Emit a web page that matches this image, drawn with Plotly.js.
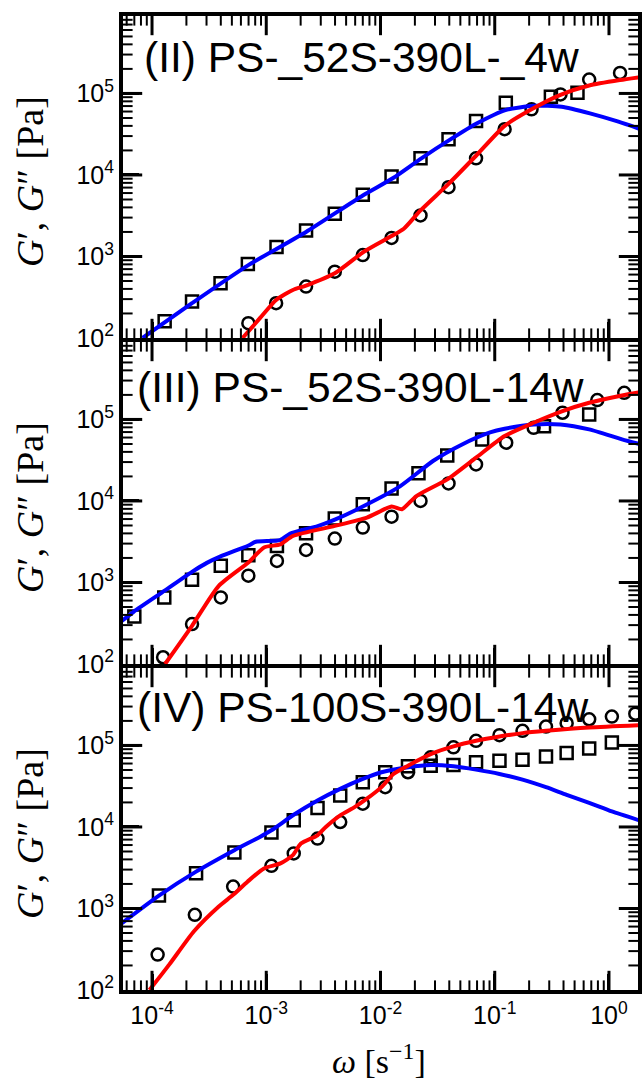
<!DOCTYPE html>
<html><head><meta charset="utf-8">
<script src="https://cdn.plot.ly/plotly-3.0.1.min.js"></script>
<style>html,body{margin:0;padding:0;background:#fff}</style>
</head><body><div id="chart" style="width:642px;height:1083px"></div>
<script>
// ---------- Panel (II) PS-_52S-390L-_4w ----------
const p1Title = "(II) PS-_52S-390L-_4w";
const p1_wSq = [1.29e-4, 2.24e-4, 3.98e-4, 6.9e-4, 1.23e-3, 2.23e-3, 3.98e-3, 7.0e-3, 1.25e-2, 2.24e-2, 3.94e-2, 6.86e-2, 0.125, 0.31, 0.53];
const p1_Gp  = [160, 280, 470, 810, 1310, 2090, 3340, 5700, 9550, 16000, 27500, 46000, 77000, 91000, 102000];
const p1_wCi = [6.97e-4, 1.22e-3, 2.23e-3, 3.98e-3, 7.0e-3, 1.25e-2, 2.24e-2, 3.94e-2, 6.86e-2, 0.122, 0.21, 0.376, 0.671, 1.25];
const p1_Gpp = [152, 267, 427, 650, 1040, 1690, 3190, 7080, 16000, 36400, 63800, 97300, 148000, 178500];
const p1_wFitP = [8.26e-5, 2.24e-4, 6.97e-4, 2.23e-3, 7.0e-3, 1.28e-2, 2.28e-2, 4.03e-2, 7.0e-2, 0.124, 0.22, 0.385, 0.681, 1.21, 1.87];
const p1_fitP  = [100, 267, 783, 2000, 5600, 9100, 16000, 26900, 43000, 62500, 70600, 68700, 56900, 45000, 36600];
const p1_wFitPP = [6.2e-4, 8.8e-4, 1.22e-3, 1.71e-3, 2.23e-3, 3.98e-3, 7.2e-3, 1.25e-2, 1.6e-2, 2.24e-2, 3.94e-2, 6.86e-2, 0.122, 0.21, 0.376, 0.671, 1.25, 1.85];
const p1_fitPP  = [100, 175, 293, 388, 439, 621, 1150, 1780, 2190, 3670, 7760, 17200, 40000, 63800, 96000, 125000, 146000, 158000];

// ---------- Panel (III) PS-_52S-390L-14w ----------
const p2Title = "(III) PS-_52S-390L-14w";
const p2_wSq = [7.0e-5, 1.28e-4, 2.24e-4, 4.0e-4, 6.97e-4, 1.24e-3, 2.23e-3, 3.98e-3, 7.0e-3, 1.25e-2, 2.15e-2, 3.84e-2, 7.76e-2, 0.27, 0.671];
const p2_Gp  = [383, 655, 1080, 1600, 2160, 2810, 4020, 6080, 9100, 14200, 21800, 36200, 56900, 82800, 115000];
const p2_wCi = [1.25e-4, 2.24e-4, 4.0e-4, 6.97e-4, 1.24e-3, 2.23e-3, 3.98e-3, 7.0e-3, 1.25e-2, 2.24e-2, 3.94e-2, 6.86e-2, 0.126, 0.219, 0.392, 0.79, 1.36];
const p2_Gpp = [121, 309, 655, 1210, 1840, 2510, 3460, 4710, 6420, 10000, 16400, 28100, 51800, 79000, 120800, 172600, 212000];
const p2_wFitP = [5.25e-5, 6.9e-5, 1.29e-4, 2.24e-4, 3.02e-4, 3.98e-4, 6.92e-4, 8.1e-4, 1.32e-3, 1.62e-3, 2.82e-3, 3.98e-3, 5.9e-3, 1.48e-2, 2.88e-2, 5.13e-2, 9.1e-2, 0.122, 0.219, 0.376, 0.671, 1.30, 1.90];
const p2_fitP  = [324, 437, 794, 1350, 1740, 2090, 2820, 3160, 3310, 3980, 4900, 5890, 7590, 15100, 30900, 49000, 69200, 76900, 86900, 86900, 75500, 56900, 49400];
const p2_wFitPP = [1.3e-4, 2.24e-4, 3.84e-4, 6.97e-4, 9.55e-4, 1.33e-3, 1.71e-3, 3.98e-3, 7.6e-3, 1.25e-2, 1.54e-2, 2.06e-2, 3.84e-2, 6.86e-2, 0.122, 0.219, 0.392, 0.671, 1.30, 1.90];
const p2_fitPP  = [100, 294, 910, 1760, 2690, 2940, 3720, 4940, 6250, 8530, 7910, 11500, 18400, 34000, 62500, 91000, 126500, 160000, 196800, 216300];

// ---------- Panel (IV) PS-100S-390L-14w ----------
const p3Title = "(IV) PS-100S-390L-14w";
const p3_wSq = [5.46e-5, 1.15e-4, 2.43e-4, 5.26e-4, 1.11e-3, 1.74e-3, 2.81e-3, 4.44e-3, 7.0e-3, 1.10e-2, 1.74e-2, 2.75e-2, 4.35e-2, 6.86e-2, 0.11, 0.175, 0.281, 0.426, 0.671, 1.06];
const p3_Gp  = [776, 1440, 2700, 4860, 8530, 12050, 17050, 24300, 35400, 46900, 55500, 56500, 57500, 62000, 65000, 66900, 73400, 80700, 91900, 108900];
const p3_wCi = [1.12e-4, 2.37e-4, 5.13e-4, 1.11e-3, 1.74e-3, 2.81e-3, 4.44e-3, 7.0e-3, 1.10e-2, 1.74e-2, 2.75e-2, 4.35e-2, 6.86e-2, 0.11, 0.175, 0.281, 0.426, 0.671, 1.06, 1.70];
const p3_Gpp = [272, 837, 1855, 3340, 4730, 7210, 11500, 19300, 30800, 46900, 71500, 94700, 114000, 133700, 151000, 170600, 187200, 209500, 226000, 245000];
const p3_wFitP = [5.46e-5, 1.15e-4, 2.43e-4, 5.26e-4, 8.8e-4, 1.11e-3, 1.74e-3, 2.81e-3, 4.44e-3, 7.0e-3, 1.02e-2, 1.74e-2, 2.75e-2, 4.35e-2, 6.86e-2, 0.11, 0.175, 0.281, 0.426, 0.671, 1.06, 1.82];
const p3_fitP  = [662, 1440, 2830, 5190, 7550, 9100, 14100, 21100, 29300, 38800, 46900, 54000, 57500, 55500, 50500, 44700, 38100, 30800, 24800, 19800, 15500, 12100];
const p3_wFitPP = [9.5e-5, 1.42e-4, 2.33e-4, 3.84e-4, 5.13e-4, 6.85e-4, 9.55e-4, 1.33e-3, 1.71e-3, 2.01e-3, 2.81e-3, 3.32e-3, 4.44e-3, 5.93e-3, 7.6e-3, 1.02e-2, 1.30e-2, 1.74e-2, 2.75e-2, 4.35e-2, 6.86e-2, 0.11, 0.175, 0.281, 0.671, 1.82];
const p3_fitPP  = [100, 206, 525, 1057, 1470, 2130, 3100, 3570, 4510, 6270, 7910, 10000, 13900, 17500, 22200, 30800, 44700, 56500, 78300, 97300, 114000, 128800, 141600, 151000, 166000, 177000];

// ---------- Tick labels ----------
const xTickVals = [1e-4, 1e-3, 1e-2, 1e-1, 1];
const xTickText = ["10<sup>-4</sup>", "10<sup>-3</sup>", "10<sup>-2</sup>", "10<sup>-1</sup>", "10<sup>0</sup>"];
const yTickVals = [1e2, 1e3, 1e4, 1e5];
const yTickText = ["10<sup>2</sup>", "10<sup>3</sup>", "10<sup>4</sup>", "10<sup>5</sup>"];
const yTitle = "<i>G</i>′, <i>G</i>″ [Pa]";
const xTitle = "<i>ω</i> [s<sup>−1</sup>]";

const panels = [
  {title: p1Title, wSq: p1_wSq, Gp: p1_Gp, wCi: p1_wCi, Gpp: p1_Gpp, wFP: p1_wFitP, FP: p1_fitP, wFPP: p1_wFitPP, FPP: p1_fitPP},
  {title: p2Title, wSq: p2_wSq, Gp: p2_Gp, wCi: p2_wCi, Gpp: p2_Gpp, wFP: p2_wFitP, FP: p2_fitP, wFPP: p2_wFitPP, FPP: p2_fitPP},
  {title: p3Title, wSq: p3_wSq, Gp: p3_Gp, wCi: p3_wCi, Gpp: p3_Gpp, wFP: p3_wFitP, FP: p3_fitP, wFPP: p3_wFitPP, FPP: p3_fitPP}
];

// ---------- geometry ----------
const W = 642, HGT = 1083;
const M = {l: 123, r: 4, t: 16, b: 93};
const X_RANGE = [-4.254, 0.254];
const Y_RANGE = [2, 5.95];
const PLOT_H = HGT - M.t - M.b;
const PANEL_H = 322, GAP = 4;
const domains = [
  [(2 * (PANEL_H + GAP)) / PLOT_H, 1],
  [(PANEL_H + GAP) / PLOT_H, (2 * PANEL_H + GAP) / PLOT_H],
  [0, PANEL_H / PLOT_H]
];
const pxPerDecX = (W - M.l - M.r) / (X_RANGE[1] - X_RANGE[0]);
const pxPerDecY = PANEL_H / (Y_RANGE[1] - Y_RANGE[0]);

const inRange = (v, r) => Math.log10(v) > r[0] + 1e-6 && Math.log10(v) < r[1] - 1e-6;
const xMinor = [], yMinor = [];
for (let d = -5; d <= 0; d++) for (let k = 2; k <= 9; k++) { const v = k * Math.pow(10, d); if (inRange(v, X_RANGE)) xMinor.push(v); }
for (let d = 2; d <= 5; d++) for (let k = 2; k <= 9; k++) { const v = k * Math.pow(10, d); if (inRange(v, Y_RANGE)) yMinor.push(v); }
const xMajor = xTickVals.filter(v => inRange(v, X_RANGE));
const yMajor = yTickVals.filter(v => inRange(v, Y_RANGE));

const FONT = "Liberation Sans, Arial, sans-serif";
const SERIF = "Liberation Serif, DejaVu Serif, serif";
const traces = [], annotations = [];
const layout = {
  width: W, height: HGT, margin: M,
  paper_bgcolor: "#fff", plot_bgcolor: "#fff",
  showlegend: false,
  font: {family: FONT, color: "#000"}
};

// Inward tick marks drawn as line-shaped markers placed half a tick length inside each edge
function tickMarkers(xa, ya, xv, yv, len, w) {
  const half = len / 2;
  const yBot = Math.pow(10, Y_RANGE[0] + half / pxPerDecY);
  const yTop = Math.pow(10, Y_RANGE[1] - half / pxPerDecY);
  const xLft = Math.pow(10, X_RANGE[0] + half / pxPerDecX);
  const xRgt = Math.pow(10, X_RANGE[1] - half / pxPerDecX);
  const mk = sym => ({symbol: sym, size: len, color: "#000", line: {color: "#000", width: w}});
  traces.push({x: xv.concat(xv), y: xv.map(() => yBot).concat(xv.map(() => yTop)),
    xaxis: xa, yaxis: ya, type: "scatter", mode: "markers", cliponaxis: false, hoverinfo: "skip",
    marker: mk("line-ns-open")});
  traces.push({x: yv.map(() => xLft).concat(yv.map(() => xRgt)), y: yv.concat(yv),
    xaxis: xa, yaxis: ya, type: "scatter", mode: "markers", cliponaxis: false, hoverinfo: "skip",
    marker: mk("line-ew-open")});
}

panels.forEach((p, i) => {
  const n = i === 0 ? "" : String(i + 1);
  const xa = "x" + n, ya = "y" + n;
  traces.push({x: p.wSq, y: p.Gp, xaxis: xa, yaxis: ya, mode: "markers", type: "scatter", hoverinfo: "skip",
    marker: {symbol: "square-open", color: "#000", size: 12, line: {color: "#000", width: 2.5}}});
  traces.push({x: p.wCi, y: p.Gpp, xaxis: xa, yaxis: ya, mode: "markers", type: "scatter", hoverinfo: "skip",
    marker: {symbol: "circle-open", color: "#000", size: 12, line: {color: "#000", width: 2.5}}});
  traces.push({x: p.wFP, y: p.FP, xaxis: xa, yaxis: ya, mode: "lines", type: "scatter", hoverinfo: "skip",
    line: {color: "#0000ff", width: 4, shape: "spline", smoothing: 0.6}});
  traces.push({x: p.wFPP, y: p.FPP, xaxis: xa, yaxis: ya, mode: "lines", type: "scatter", hoverinfo: "skip",
    line: {color: "#ff0000", width: 4, shape: "spline", smoothing: 0.6}});

  tickMarkers(xa, ya, xMajor, yMajor, 16, 3);
  tickMarkers(xa, ya, xMinor, yMinor, 8, 2);

  const last = i === 2;
  layout["xaxis" + n] = {
    type: "log", range: X_RANGE, domain: [0, 1], anchor: ya,
    showline: true, linewidth: 4, linecolor: "#000", mirror: true,
    ticks: "inside", ticklen: 16, tickwidth: 3, tickcolor: "#000",
    tickmode: "array", tickvals: xTickVals, ticktext: xTickText,
    showticklabels: last,
    tickfont: {family: FONT, size: 25, color: "#000"},
    showgrid: false, zeroline: false
  };
  layout["yaxis" + n] = {
    type: "log", range: Y_RANGE, domain: domains[i], anchor: xa,
    showline: true, linewidth: 4, linecolor: "#000", mirror: true,
    ticks: "inside", ticklen: 16, tickwidth: 3, tickcolor: "#000",
    tickmode: "array", tickvals: yTickVals, ticktext: yTickText,
    tickfont: {family: FONT, size: 25, color: "#000"},
    showgrid: false, zeroline: false
  };

  annotations.push({
    text: p.title, xref: xa + " domain", yref: ya + " domain",
    x: i === 0 ? 0.037 : 0.023, y: [0.871, 0.86, 0.876][i], xanchor: "left", yanchor: "middle",
    showarrow: false, font: {family: FONT, size: 42.5, color: "#000"}
  });
  annotations.push({
    text: yTitle, xref: xa + " domain", yref: ya + " domain",
    x: -0.181, y: 0.487, xanchor: "center", yanchor: "middle", textangle: -90,
    showarrow: false, font: {family: SERIF, size: 38, color: "#000"}
  });
  if (last) {
    annotations.push({
      text: xTitle, xref: xa + " domain", yref: ya + " domain",
      x: 0.497, y: -0.215, xanchor: "center", yanchor: "middle",
      showarrow: false, font: {family: SERIF, size: 34, color: "#000"}
    });
  }
});
layout.annotations = annotations;

Plotly.newPlot("chart", traces, layout, {displayModeBar: false});
</script></body></html>
